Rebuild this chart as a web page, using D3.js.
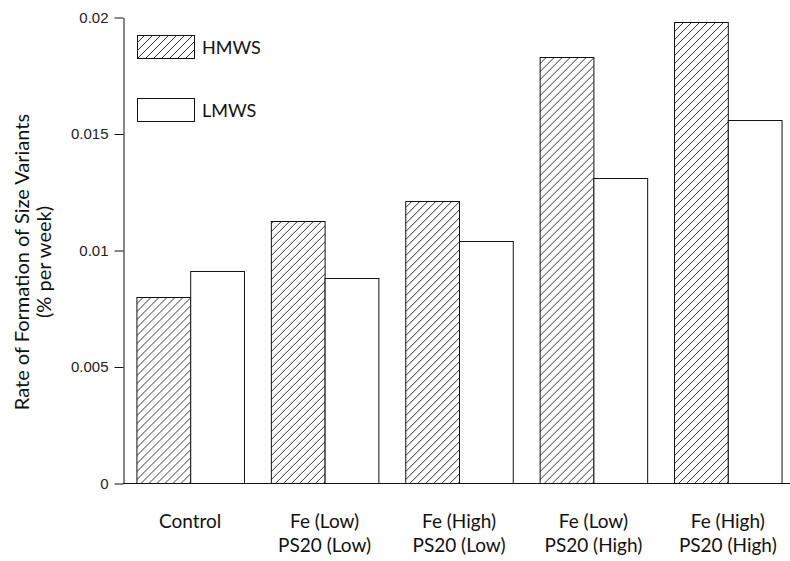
<!DOCTYPE html>
<html>
<head>
<meta charset="utf-8">
<script src="https://cdn.jsdelivr.net/npm/d3@7"></script>
<style>
  body { margin: 0; background: #fff; }
  svg { display: block; }
</style>
</head>
<body>
<script>
// chart data
var groups = ["Control", "Fe (Low)\nPS20 (Low)", "Fe (High)\nPS20 (Low)", "Fe (Low)\nPS20 (High)", "Fe (High)\nPS20 (High)"];
var series = ["HMWS", "LMWS"];
var hmws = [0.0080, 0.01125, 0.0121, 0.0183, 0.0198];
var lmws = [0.0091, 0.0088, 0.0104, 0.0131, 0.0156];
var yTicks = [0, 0.005, 0.01, 0.015, 0.02];
var yTickLabels = ["0", "0.005", "0.01", "0.015", "0.02"];

var width = 790, height = 561;
var margin = {top: 17, right: -5, bottom: 78, left: 123};

var svg = d3.select("body")
            .append("svg")
            .attr("width", width)
            .attr("height", height);

// hatch pattern
var defs = svg.append("defs");
var pat = defs.append("pattern")
            .attr("id", "hatch")
            .attr("patternUnits", "userSpaceOnUse")
            .attr("width", 8)
            .attr("height", 8);
pat.append("rect").attr("width", 8).attr("height", 8).attr("fill", "#fff");
pat.append("path")
    .attr("d", "M-2,2 L2,-2 M0,8 L8,0 M6,10 L10,6")
    .attr("stroke", "#333")
    .attr("stroke-width", 1);

var x0 = d3.scaleBand()
    .domain(groups)
    .range([margin.left, width - margin.right])
    .paddingInner(0.2)
    .paddingOuter(0.1);

var x1 = d3.scaleBand()
    .domain(series)
    .range([0, x0.bandwidth()]);

var y = d3.scaleLinear()
    .domain([0, 0.02])
    .range([height - margin.bottom, margin.top]);

var fills = {HMWS: "url(#hatch)", LMWS: "#fff"};

// bars
var rows = groups.map(function(g, i) {
  return {group: g, values: [{key: "HMWS", v: hmws[i]}, {key: "LMWS", v: lmws[i]}]};
});

svg.append("g")
  .selectAll("g")
  .data(rows)
  .enter().append("g")
  .attr("transform", function(d) { return "translate(" + x0(d.group) + ",0)"; })
  .selectAll("rect")
  .data(function(d) { return d.values; })
  .enter().append("rect")
  .attr("x", function(d) { return x1(d.key) + 0.5; })
  .attr("y", function(d) { return Math.round(y(d.v)) + 0.5; })
  .attr("width", x1.bandwidth())
  .attr("height", function(d) { return y(0) - Math.round(y(d.v)); })
  .attr("fill", function(d) { return fills[d.key]; })
  .attr("stroke", "#111")
  .attr("stroke-width", 1);

// y axis
var yAxis = svg.append("g")
    .attr("transform", "translate(" + (margin.left + 0.5) + ",0.5)")
    .call(d3.axisLeft(y)
      .tickValues(yTicks)
      .tickFormat(function(d, i) { return yTickLabels[i]; })
      .tickSize(9)
      .tickPadding(6)
      .tickSizeOuter(0));
yAxis.select(".domain").attr("stroke", "#111");
yAxis.selectAll(".tick line").attr("stroke", "#111");
yAxis.selectAll("text")
    .style("font-family", "'Liberation Sans', Arial, sans-serif")
    .style("font-size", "15px")
    .attr("fill", "#222");

// x axis line
svg.append("line")
    .attr("x1", margin.left)
    .attr("x2", width)
    .attr("y1", y(0) + 0.5)
    .attr("y2", y(0) + 0.5)
    .attr("stroke", "#111");

// x labels
var xl = svg.append("g")
    .selectAll("text")
    .data(groups)
    .enter().append("text")
    .attr("x", function(d) { return x0(d) + x0.bandwidth() / 2; })
    .attr("y", 528)
    .attr("text-anchor", "middle")
    .style("font-family", "Lato, 'Open Sans', sans-serif")
    .style("font-size", "19px")
    .attr("fill", "#111");
xl.selectAll("tspan")
    .data(function(d) { return d.split("\n"); })
    .enter().append("tspan")
    .attr("x", function() { var p = this.parentNode; return p.getAttribute("x"); })
    .attr("dy", function(d, i) { return i === 0 ? 0 : 24; })
    .text(function(d) { return d; });

// y label
var yl = svg.append("text")
    .attr("transform", "translate(22," + 262 + ") rotate(-90)")
    .attr("text-anchor", "middle")
    .style("font-family", "Lato, 'Open Sans', sans-serif")
    .style("font-size", "20px")
    .attr("fill", "#111");
yl.append("tspan").attr("x", 0).attr("dy", 7).text("Rate of Formation of Size Variants");
yl.append("tspan").attr("x", 0).attr("dy", 22).text("(% per week)");

// legend
var legend = svg.append("g")
    .selectAll("g")
    .data(series)
    .enter().append("g")
    .attr("transform", function(d, i) { return "translate(137," + (35 + i * 63) + ")"; });
legend.append("rect")
    .attr("x", 0.5).attr("y", 0.5)
    .attr("width", 57).attr("height", 23)
    .attr("fill", function(d) { return fills[d]; })
    .attr("stroke", "#111");
legend.append("text")
    .attr("x", 65)
    .attr("y", 19)
    .style("font-family", "Lato, 'Open Sans', sans-serif")
    .style("font-size", "18px")
    .attr("fill", "#111")
    .text(function(d) { return d; });
</script>
</body>
</html>
